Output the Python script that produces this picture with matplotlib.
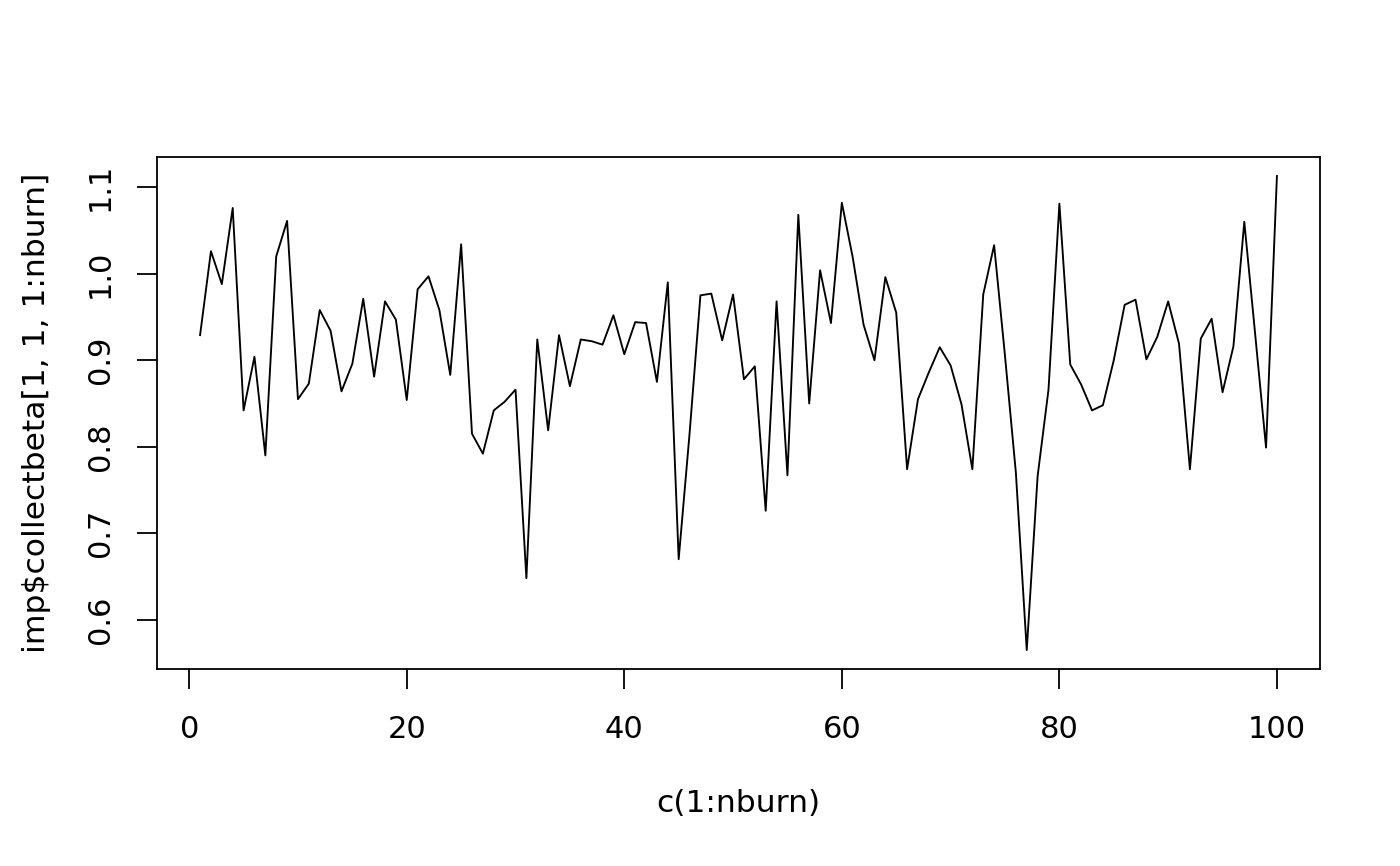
import numpy as np
import matplotlib
matplotlib.use("Agg")
import matplotlib.pyplot as plt

# trace values, iterations 1..100
iters = np.arange(1, 101)
beta = [
    0.929, 1.026, 0.988, 1.076, 0.842, 0.904, 0.790, 1.020, 1.061, 0.855,
    0.873, 0.958, 0.934, 0.864, 0.896, 0.971, 0.881, 0.968, 0.947, 0.854,
    0.982, 0.997, 0.958, 0.883, 1.034, 0.815, 0.792, 0.842, 0.852, 0.866,
    0.648, 0.924, 0.819, 0.929, 0.870, 0.924, 0.922, 0.918, 0.952, 0.907,
    0.944, 0.943, 0.875, 0.990, 0.670, 0.815, 0.975, 0.977, 0.923, 0.976,
    0.878, 0.893, 0.726, 0.968, 0.767, 1.068, 0.850, 1.004, 0.943, 1.082,
    1.019, 0.941, 0.900, 0.996, 0.955, 0.774, 0.855, 0.886, 0.915, 0.894,
    0.849, 0.774, 0.976, 1.033, 0.905, 0.770, 0.565, 0.766, 0.866, 1.081,
    0.895, 0.872, 0.842, 0.848, 0.900, 0.964, 0.970, 0.901, 0.927, 0.968,
    0.919, 0.774, 0.925, 0.948, 0.863, 0.916, 1.060, 0.930, 0.799, 1.113,
]
xticks = [0, 20, 40, 60, 80, 100]
yticks = [0.6, 0.7, 0.8, 0.9, 1.0, 1.1]

fig = plt.figure(figsize=(14, 8.66), dpi=100)
ax = fig.add_axes([157 / 1400, 1 - 669 / 866, 1163 / 1400, 512 / 866])

ax.plot(iters, beta, color="black", linewidth=1.35)

# R-style 4% padding around the data range
xr = max(iters) - min(iters)
yr = max(beta) - min(beta)
ax.set_xlim(min(iters) - 0.04 * xr, max(iters) + 0.04 * xr)
ax.set_ylim(min(beta) - 0.04 * yr, max(beta) + 0.04 * yr)

ax.set_xticks(xticks)
ax.set_xticklabels([str(t) for t in xticks])
ax.set_yticks(yticks)
ax.set_yticklabels(["%.1f" % t for t in yticks], rotation=90, va="center")

ax.tick_params(direction="out", length=14.4, width=1.3, labelsize=22,
               colors="black")
ax.tick_params(axis="x", pad=19)
ax.tick_params(axis="y", pad=16)
for sp in ax.spines.values():
    sp.set_linewidth(1.3)

ax.set_xlabel("c(1:nburn)", fontsize=22.6)
ax.xaxis.set_label_coords(0.5, (669 - 803) / 512)
ax.xaxis.label.set_va("center")
ax.set_ylabel("imp$collectbeta[1, 1, 1:nburn]", fontsize=22.6)
ax.yaxis.set_label_coords((37 - 157) / 1163, 0.5)
ax.yaxis.label.set_va("center")

fig.savefig("out.png", dpi=100)
